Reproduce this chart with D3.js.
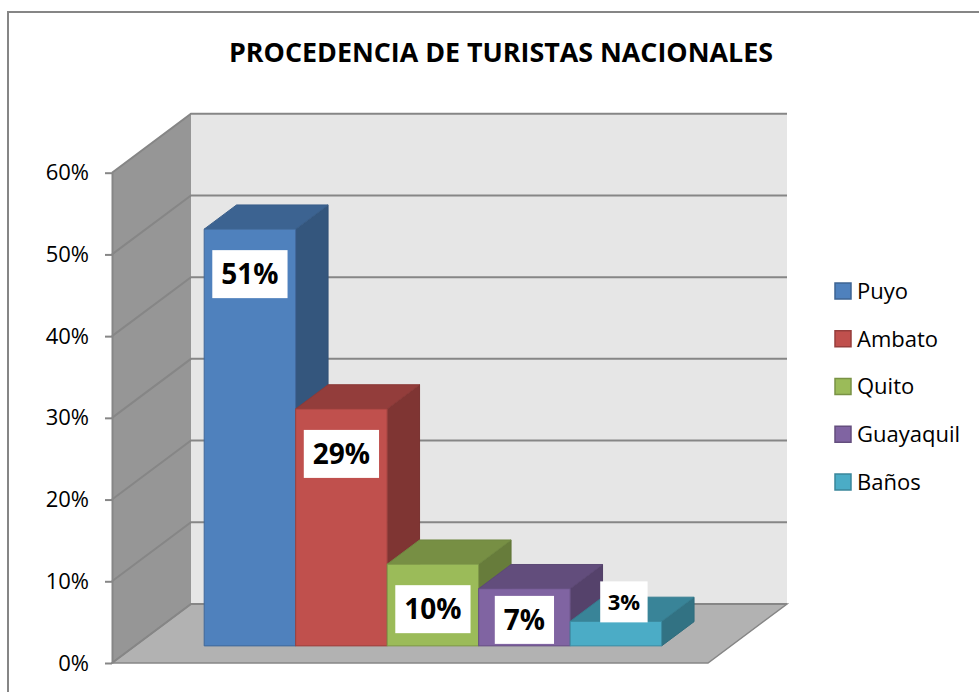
<!DOCTYPE html>
<html>
<head>
<meta charset="utf-8">
<script src="https://cdn.jsdelivr.net/npm/d3@7"></script>
<style>
body { margin: 0; background: #fff; }
svg { display: block; }
</style>
</head>
<body>
<svg id="chart"></svg>
<script>
// 3D column chart - procedencia de turistas
var categories = ["Puyo", "Ambato", "Quito", "Guayaquil", "Baños"]
var values = [0.51, 0.29, 0.10, 0.07, 0.03]
var labels = ["51%", "29%", "10%", "7%", "3%"]
var yTicks = [0, 0.1, 0.2, 0.3, 0.4, 0.5, 0.6]
var title = "PROCEDENCIA DE TURISTAS NACIONALES"

var colors = ["#4F81BD", "#C0504D", "#9BBB59", "#8064A2", "#4BACC6"]

var dimensions = { width: 979, height: 692 }
var font = "'Open Sans', sans-serif"
var gridColor = "#868686"

// depth offset of the back wall, and where the bars sit in depth
var depthX = 79, depthY = -59
var zFront = 0.29, zBack = 0.70

var svg = d3.select("#chart")
    .attr("width", dimensions.width)
    .attr("height", dimensions.height)

var xScale = d3.scaleBand()
    .domain(categories)
    .range([112, 708])
    .paddingInner(0)
    .paddingOuter(0.757)

var yScale = d3.scaleLinear()
    .domain([0, 0.6])
    .range([663, 172.7])

var colorScale = d3.scaleOrdinal().domain(categories).range(colors)

function proj(px, v, z) {
    return [px + depthX * z, yScale(v) + depthY * z]
}
function poly(pts) {
    return pts.map(d => d.join(",")).join(" ")
}

var x0 = xScale.range()[0], x1 = xScale.range()[1]
var vTop = yScale.domain()[1]

// outer frame
svg.append("rect")
    .attr("x", 8).attr("y", 12)
    .attr("width", dimensions.width).attr("height", dimensions.height)
    .attr("fill", "none")
    .attr("stroke", gridColor)
    .attr("stroke-width", 2)

// walls and floor
svg.append("polygon")
    .attr("points", poly([proj(x0, vTop, 1), proj(x1, vTop, 1), proj(x1, 0, 1), proj(x0, 0, 1)]))
    .attr("fill", "#E6E6E6")
svg.append("polygon")
    .attr("points", poly([proj(x0, vTop, 0), proj(x0, vTop, 1), proj(x0, 0, 1), proj(x0, 0, 0)]))
    .attr("fill", "#969696")
svg.append("polygon")
    .attr("points", poly([proj(x0, 0, 0), proj(x1, 0, 0), proj(x1, 0, 1), proj(x0, 0, 1)]))
    .attr("fill", "#B2B2B2")
    .attr("stroke", gridColor)
    .attr("stroke-width", 1.5)

// gridlines on side and back wall
svg.append("g").selectAll("polyline")
    .data(yTicks)
    .enter()
    .append("polyline")
    .attr("points", d => poly([proj(x0, d, 0), proj(x0, d, 1), proj(x1, d, 1)]))
    .attr("fill", "none")
    .attr("stroke", gridColor)
    .attr("stroke-width", 2)

// y axis
var yAxis = svg.append("g")
    .attr("transform", `translate(${x0},0)`)
    .call(d3.axisLeft(yScale)
        .tickValues(yTicks)
        .tickFormat(d3.format(".0%"))
        .tickSizeInner(7)
        .tickSizeOuter(0)
        .tickPadding(16))
yAxis.select(".domain").attr("stroke", gridColor).attr("stroke-width", 2)
yAxis.selectAll(".tick line").attr("stroke", gridColor).attr("stroke-width", 2)
yAxis.selectAll(".tick text")
    .attr("fill", "#000")
    .style("font-family", font)
    .style("font-size", "22px")

// bars, left to right so later fronts cover earlier side faces
var bars = svg.append("g").selectAll("g")
    .data(categories)
    .enter()
    .append("g")

bars.each(function (d, i) {
    var g = d3.select(this)
    var xl = xScale(d), xr = xl + xScale.bandwidth(), v = values[i]
    var c = d3.color(colorScale(d))
    g.append("polygon")
        .attr("points", poly([proj(xr, v, zFront), proj(xr, v, zBack), proj(xr, 0, zBack), proj(xr, 0, zFront)]))
        .attr("fill", c.darker(1.15))
        .attr("stroke", c.darker(1.3)).attr("stroke-width", 1)
    g.append("polygon")
        .attr("points", poly([proj(xl, v, zFront), proj(xl, v, zBack), proj(xr, v, zBack), proj(xr, v, zFront)]))
        .attr("fill", c.darker(0.75))
        .attr("stroke", c.darker(0.9)).attr("stroke-width", 1)
    g.append("polygon")
        .attr("points", poly([proj(xl, v, zFront), proj(xr, v, zFront), proj(xr, 0, zFront), proj(xl, 0, zFront)]))
        .attr("fill", c)
        .attr("stroke", c.darker(0.6)).attr("stroke-width", 1)
})

// data labels in white boxes
var labelLayer = svg.append("g")
categories.forEach(function (d, i) {
    var xl = xScale(d), xr = xl + xScale.bandwidth(), v = values[i]
    var topY = proj(xl, v, zFront)[1]
    var botY = proj(xl, 0, zFront)[1]
    var cx = (proj(xl, v, zFront)[0] + proj(xr, v, zFront)[0]) / 2
    var inside = botY - topY > 50
    var size = inside ? 28 : 22
    var h = inside ? 48 : 41
    var g = labelLayer.append("g")
    var rect = g.append("rect").attr("fill", "#fff")
    var t = g.append("text")
        .text(labels[i])
        .attr("text-anchor", "middle")
        .attr("dy", "0.36em")
        .style("font-family", font)
        .style("font-weight", "bold")
        .style("font-size", size + "px")
    var w = t.node().getComputedTextLength() + (inside ? 18 : 15)
    var cy
    if (inside) {
        cy = Math.min(topY + 45, botY - 2 - h / 2)
    } else {
        cy = topY - h / 2 + 1
        cx += 8
    }
    t.attr("x", cx).attr("y", cy)
    rect.attr("x", cx - w / 2).attr("y", cy - h / 2).attr("width", w).attr("height", h)
})

// legend
var legend = svg.append("g").selectAll("g")
    .data(categories)
    .enter()
    .append("g")
    .attr("transform", (d, i) => `translate(835,${291 + i * 47.75})`)
legend.append("rect")
    .attr("x", 0).attr("y", -8)
    .attr("width", 16).attr("height", 16)
    .attr("fill", d => colorScale(d))
    .attr("stroke", d => d3.color(colorScale(d)).darker(0.7))
    .attr("stroke-width", 1.5)
legend.append("text")
    .attr("x", 22)
    .attr("dy", "0.36em")
    .text(d => d)
    .style("font-family", font)
    .style("font-size", "22px")

// title, fitted to the width it takes in the picture
var titleText = svg.append("text")
    .attr("x", 501).attr("y", 62)
    .attr("text-anchor", "middle")
    .text(title)
    .style("font-family", font)
    .style("font-weight", "bold")
    .style("font-size", "27px")
var tl = titleText.node().getComputedTextLength()
titleText.style("font-size", (27 * 544 / tl) + "px")
</script>
</body>
</html>
